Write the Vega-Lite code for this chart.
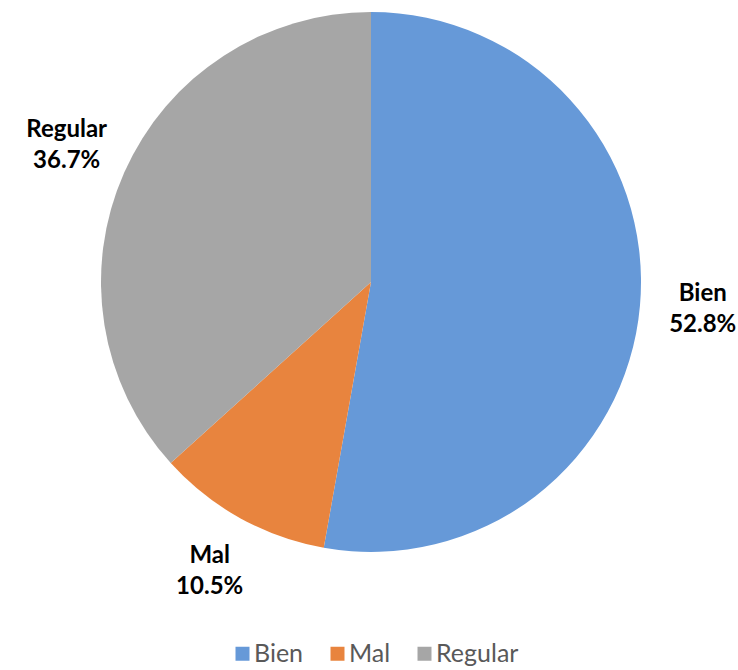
{
  "$schema": "https://vega.github.io/schema/vega-lite/v6.json",
  "width": 734,
  "height": 564,
  "autosize": {"type": "none"},
  "padding": {"left": 4, "top": 0, "right": 0, "bottom": 106},
  "background": "white",
  "config": {"view": {"stroke": null}, "font": "Lato"},
  "data": {
    "values": [
      {"category": "Bien", "value": 52.8, "label": "Bien\n52.8%"},
      {"category": "Mal", "value": 10.5, "label": "Mal\n10.5%"},
      {"category": "Regular", "value": 36.7, "label": "Regular\n36.7%"}
    ]
  },
  "encoding": {
    "theta": {"field": "value", "type": "quantitative", "stack": true},
    "color": {
      "field": "category",
      "type": "nominal",
      "scale": {"domain": ["Bien", "Mal", "Regular"], "range": ["#6699d8", "#e8843e", "#a6a6a6"]},
      "legend": {
        "title": null,
        "orient": "none",
        "direction": "horizontal",
        "legendX": 226,
        "legendY": 641,
        "symbolType": "square",
        "symbolSize": 196,
        "symbolStrokeWidth": 0,
        "labelFontSize": 25,
        "labelFont": "Lato",
        "labelColor": "#595959",
        "labelOffset": -1,
        "columnPadding": 21
      }
    }
  },
  "layer": [
    {"mark": {"type": "arc", "outerRadius": 270}},
    {
      "mark": {"type": "text", "radius": 333, "fontSize": 24, "fontWeight": "bold", "lineBreak": "\n", "lineHeight": 31, "dy": -17, "color": "#000000", "align": "center", "baseline": "middle"},
      "encoding": {"text": {"field": "label"}, "color": {"value": "#000000"}}
    }
  ]
}
